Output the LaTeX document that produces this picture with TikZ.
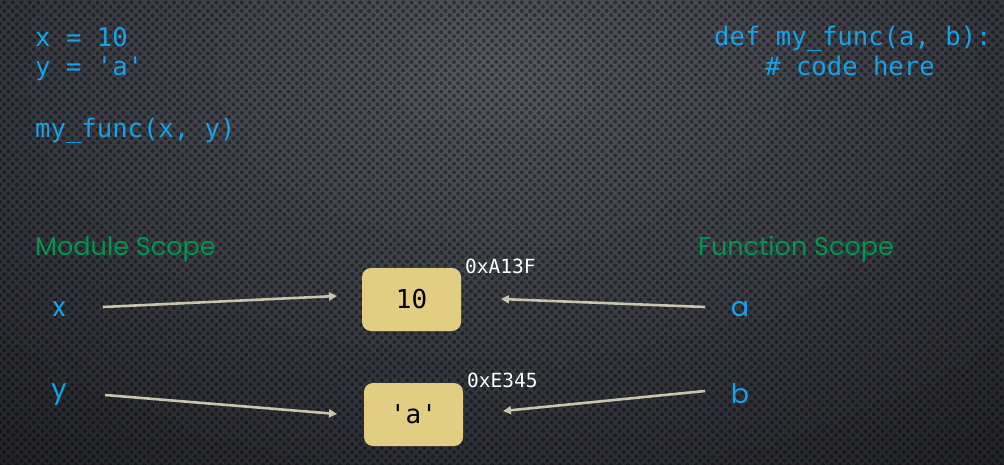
\documentclass[tikz,border=0pt]{standalone}
\usepackage{fontspec}
\setmonofont{DejaVu Sans Mono}
\newfontfamily\geofont{Poppins}
\usetikzlibrary{patterns.meta,arrows.meta}
\definecolor{codeblue}{RGB}{22,162,232}
\definecolor{scopegreen}{RGB}{0,150,80}
\definecolor{boxfill}{RGB}{226,206,130}
\definecolor{arrowcol}{RGB}{200,197,172}
\definecolor{bgcenter}{RGB}{84,87,96}
\definecolor{bgedge}{RGB}{28,29,34}
\tikzset{
  code/.style={anchor=base west, inner sep=0pt, text=codeblue, font=\ttfamily\fontsize{25.6}{26}\selectfont},
  scope/.style={anchor=base west, inner sep=0pt, text=scopegreen, font=\geofont\fontsize{25.5}{25}\selectfont},
  var/.style={inner sep=0pt, text=codeblue, font=\geofont\fontsize{27}{27}\selectfont},
  valbox/.style={draw=none, fill=boxfill, rounded corners=9pt, minimum width=99pt, minimum height=63pt, inner sep=0pt, font=\ttfamily\fontsize{26}{26}\selectfont, text=black},
  addr/.style={anchor=base west, inner sep=0pt, text=white, font=\ttfamily\fontsize{19.5}{19}\selectfont},
  ref/.style={draw=arrowcol, line width=2.6pt, -{Triangle[length=8pt,width=8pt]}, shorten >=0pt},
}
\begin{document}
\begin{tikzpicture}[x=1pt,y=-1pt]
\useasboundingbox (0,0) rectangle (1004,465);
% background
\shade[inner color=bgcenter, outer color=bgedge] (-400,-480) rectangle (1404,620);
\fill[pattern={Dots[radius=2pt,distance=6pt,angle=45]}, pattern color=black, opacity=0.4] (0,0) rectangle (1004,465);
% code
\node[code] (c1) at (35,47) {x = 10};
\node[code] (c2) at (35,76) {y = 'a'};
\node[code] (c3) at (35,138) {my\_func(x, y)};
\node[code] (d1) at (714,46) {def my\_func(a, b):};
\node[code] (d2) at (765,76) {\# code here};
% scopes
\node[scope] (ms) at (35,255) {Module Scope};
\node[scope] (fs) at (698,255) {Function Scope};
% variables
\node[var] (x) at (59,309) {x};
\node[var] (y) at (59,395) {y};
\node[var] (a) at (740,309) {a};
\node[var] (b) at (740,394) {b};
% boxes
\node[valbox] (v10) at (411.5,299.5) {10};
\node[valbox] (va) at (413.5,414.5) {'a'};
\node[addr] (ad1) at (465,273) {0xA13F};
\node[addr] (ad2) at (467,387) {0xE345};
% arrows
\coordinate (xs) at (103,307);
\coordinate (xe) at (337,296);
\coordinate (ys) at (105,395);
\coordinate (ye) at (337,414);
\coordinate (as) at (705,307);
\coordinate (ae) at (501,299);
\coordinate (bs) at (705,391);
\coordinate (be) at (503,411);
\draw[ref] (xs) -- (xe);
\draw[ref] (ys) -- (ye);
\draw[ref] (as) -- (ae);
\draw[ref] (bs) -- (be);
\end{tikzpicture}
\end{document}
